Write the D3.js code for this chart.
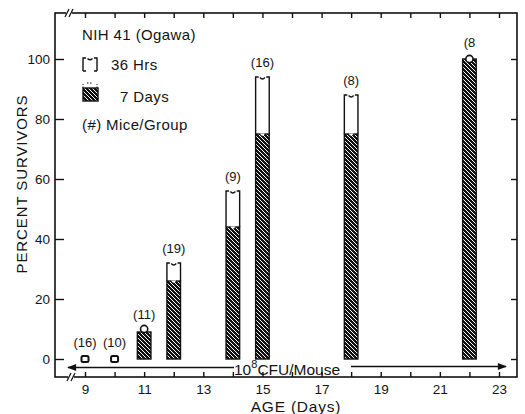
<!DOCTYPE html>
<html>
<head>
<meta charset="utf-8">
<script src="https://cdn.jsdelivr.net/npm/d3@7"></script>
<style>
  body { margin: 0; background: #fff; }
  svg { display: block; font-family: "Liberation Sans", Arial, sans-serif; }
  text { fill: #141414; }
</style>
</head>
<body>
<svg id="chart" width="525" height="414"></svg>
<script>
// data
const ages = [9, 10, 11, 12, 14, 15, 18, 22];
const survivors36h = [0, 0, 10, 32, 56, 94, 88, 100];
const survivors7d = [0, 0, 9, 26, 44, 75, 75, 100];
const miceLabels = ["(16)", "(10)", "(11)", "(19)", "(9)", "(16)", "(8)", "(8"];
const yTicks = [0, 20, 40, 60, 80, 100];
const xTicks = d3.range(9, 24);

const svg = d3.select("#chart");
const ink = "#111";

// frame
const frame = { left: 55, right: 517, top: 13, bottom: 377 };

const x = d3.scaleLinear().domain([9, 23]).range([85, 499]);
const y = d3.scaleLinear().domain([0, 100]).range([359, 59]);

// hatch pattern: pixel-aligned "\" diagonals, white on black
const defs = svg.append("defs");
const pat = defs.append("pattern")
  .attr("id", "hatch")
  .attr("patternUnits", "userSpaceOnUse")
  .attr("width", 4)
  .attr("height", 4);
pat.append("rect").attr("width", 4).attr("height", 4).attr("fill", ink);
pat.selectAll("rect.px")
  .data(d3.range(4))
  .join("rect")
  .attr("class", "px")
  .attr("x", d => d).attr("y", d => d)
  .attr("width", 1).attr("height", 1)
  .attr("fill", "#fff")
  .attr("shape-rendering", "crispEdges");

// frame box
svg.append("rect")
  .attr("x", frame.left).attr("y", frame.top)
  .attr("width", frame.right - frame.left)
  .attr("height", frame.bottom - frame.top)
  .attr("fill", "none").attr("stroke", ink).attr("stroke-width", 1.6);

// axis break marks
[[69, frame.top], [71, frame.bottom]].forEach(([bx, by]) => {
  svg.append("rect").attr("x", bx - 3).attr("y", by - 3).attr("width", 6).attr("height", 6).attr("fill", "#fff");
  [-2, 2].forEach(o => {
    svg.append("line")
      .attr("x1", bx + o - 2).attr("y1", by + 4)
      .attr("x2", bx + o + 2).attr("y2", by - 4)
      .attr("stroke", ink).attr("stroke-width", 1.2);
  });
});

function styleAxis(g) {
  g.select(".domain").remove();
  g.selectAll("line").attr("stroke", ink).attr("stroke-width", 1.4);
  g.selectAll("text").attr("fill", "#141414").attr("font-size", 13.5);
}

// left axis
svg.append("g")
  .attr("transform", `translate(${frame.left},0)`)
  .call(d3.axisLeft(y).tickValues(yTicks).tickSize(-9).tickPadding(5))
  .call(styleAxis);

// right axis
svg.append("g")
  .attr("transform", `translate(${frame.right},0)`)
  .call(d3.axisRight(y).tickValues(yTicks).tickSize(-6).tickFormat(""))
  .call(styleAxis);

// bottom axis
svg.append("g")
  .attr("transform", `translate(0,${frame.bottom})`)
  .call(d3.axisBottom(x).tickValues(xTicks).tickSize(-5).tickPadding(7)
    .tickFormat(d => d % 2 ? d : ""))
  .call(styleAxis);

// top axis
svg.append("g")
  .attr("transform", `translate(0,${frame.top})`)
  .call(d3.axisTop(x).tickValues(xTicks).tickSize(-5).tickFormat(""))
  .call(styleAxis);

// bars
const bars = ages.map((a, i) => ({
  age: a, h36: survivors36h[i], d7: survivors7d[i], n: miceLabels[i]
}));
const halfW = 6.8;

const g = svg.append("g");
bars.forEach(b => {
  const cx = x(b.age);
  const x0 = cx - halfW, x1 = cx + halfW;
  if (b.d7 > 0) {
    g.append("rect")
      .attr("x", x0).attr("y", y(b.d7))
      .attr("width", x1 - x0).attr("height", y(0) - y(b.d7))
      .attr("fill", "url(#hatch)")
      .attr("stroke", ink).attr("stroke-width", 1.4);
  }
  if (b.h36 === 0 && b.d7 === 0) {
    g.append("rect")
      .attr("x", cx - 3.5).attr("y", y(0) - 3)
      .attr("width", 7).attr("height", 6).attr("rx", 1.5)
      .attr("fill", "#fff").attr("stroke", ink).attr("stroke-width", 2);
  } else if (b.h36 - b.d7 <= 2) {
    g.append("circle")
      .attr("cx", cx).attr("cy", y(b.h36))
      .attr("r", 3.6)
      .attr("fill", "#fff").attr("stroke", ink).attr("stroke-width", 1.6);
  } else {
    const yt = y(b.h36), yb = y(b.d7);
    g.append("path")
      .attr("d", `M${x0},${yb} L${x0},${yt} L${x0 + 3},${yt} M${x1 - 3},${yt} L${x1},${yt} L${x1},${yb}` +
        ` M${cx - 2.5},${yt + 0.5} Q${cx},${yt + 3.5} ${cx + 2.5},${yt + 0.5}`)
      .attr("fill", "none").attr("stroke", ink).attr("stroke-width", 1.4);
    // small notch in the top of the hatched bar
    g.append("path")
      .attr("d", `M${cx - 2.5},${yb - 0.5} Q${cx},${yb + 4} ${cx + 2.5},${yb - 0.5} Z`)
      .attr("fill", "#fff");
  }
  const top = Math.max(b.h36, b.d7);
  g.append("text")
    .attr("x", cx).attr("y", y(top) - (top >= 100 || top === 0 ? 12 : 10))
    .attr("text-anchor", "middle").attr("font-size", 13)
    .text(b.n);
});

// CFU arrows
svg.append("defs").append("marker")
  .attr("id", "arrow").attr("viewBox", "0 0 10 10")
  .attr("refX", 9).attr("refY", 5)
  .attr("markerWidth", 7).attr("markerHeight", 6)
  .attr("orient", "auto-start-reverse")
  .append("path").attr("d", "M0,1 L10,5 L0,9 Z").attr("fill", ink);

svg.append("line")
  .attr("x1", 68).attr("y1", 367.5).attr("x2", 234).attr("y2", 367.5)
  .attr("stroke", ink).attr("stroke-width", 1.5)
  .attr("marker-start", "url(#arrow)");
svg.append("line")
  .attr("x1", 351).attr("y1", 366.5).attr("x2", 506).attr("y2", 366.5)
  .attr("stroke", ink).attr("stroke-width", 1.5)
  .attr("marker-end", "url(#arrow)");

const cfu = svg.append("text")
  .attr("x", 234).attr("y", 375).attr("font-size", 15.5);
cfu.append("tspan").text("10");
cfu.append("tspan").attr("dy", -7).attr("font-size", 11).text("8");
cfu.append("tspan").attr("dy", 7).text("CFU/Mouse");

// axis titles
svg.append("text")
  .attr("x", 296).attr("y", 412)
  .attr("text-anchor", "middle").attr("font-size", 15.5)
  .attr("letter-spacing", 0.8)
  .text("AGE (Days)");

svg.append("text")
  .attr("transform", "translate(27,184) rotate(-90)")
  .attr("text-anchor", "middle").attr("font-size", 15)
  .attr("letter-spacing", 0.9)
  .text("PERCENT SURVIVORS");

// legend
const leg = svg.append("g").attr("font-size", 15).attr("letter-spacing", 0.4);
leg.append("text").attr("x", 82).attr("y", 40).text("NIH 41 (Ogawa)");

leg.append("path")
  .attr("d", "M83,71 L83,58 L86,58 M94,58 L97,58 L97,71 M83,71 L86,71 M94,71 L97,71 M87.5,58.5 Q90,61 92.5,58.5")
  .attr("fill", "none").attr("stroke", ink).attr("stroke-width", 1.4);
leg.append("text").attr("x", 111).attr("y", 70).text("36 Hrs");

leg.append("path")
  .attr("d", "M83,88 L83,84 M97,88 L97,84 M87,83 L93,83")
  .attr("fill", "none").attr("stroke", ink).attr("stroke-width", 1)
  .attr("stroke-dasharray", "1.5,1.5");
leg.append("rect")
  .attr("x", 83).attr("y", 88).attr("width", 15).attr("height", 13)
  .attr("fill", "url(#hatch)").attr("stroke", ink).attr("stroke-width", 1.4);
leg.append("text").attr("x", 120).attr("y", 102).text("7 Days");

leg.append("text").attr("x", 82).attr("y", 130).text("(#) Mice/Group");
</script>
</body>
</html>
